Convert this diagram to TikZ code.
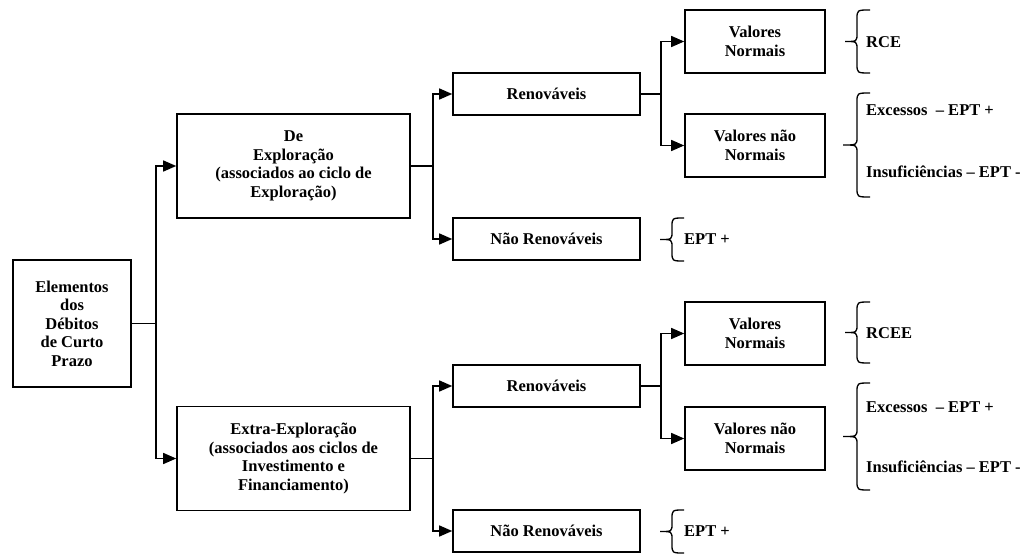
\documentclass[tikz,border=0pt]{standalone}
\usepackage{fontspec}
\setmainfont{Liberation Serif}
\usetikzlibrary{arrows.meta}
\begin{document}
\begin{tikzpicture}[x=1pt,y=-1pt,
  every node/.style={font=\fontsize{16.5}{18.5}\selectfont\bfseries, inner sep=0pt},
  box/.style={draw, line width=1.6pt, align=center},
  smallbox/.style={box, minimum width=187pt, minimum height=42pt},
  valbox/.style={box, minimum width=140pt, minimum height=63pt},
  bigbox/.style={box, minimum width=233pt, minimum height=104pt},
  arr/.style={line width=1.4pt, -{Triangle[length=13pt,width=11pt]}},
  lbl/.style={anchor=west},
  brc/.style={line width=1.3pt}
]
\useasboundingbox (0,0) rectangle (1028,556);
\fill[white] (0,0) rectangle (1028,556);

% boxes
\node[box, minimum width=118pt, minimum height=127pt] (root) at (72,323.5) {Elementos\\dos\\Débitos\\de Curto\\Prazo};
\node[bigbox] (de) at (293.5,166) {De\\Exploração\\(associados ao ciclo de\\Exploração)};
\node[bigbox] (extra) at (293.5,458.5) {Extra-Exploração\\(associados aos ciclos de\\Investimento e\\Financiamento)};

\node[smallbox] (renT) at (546.5,94) {Renováveis};
\node[smallbox] (naoT) at (546.5,239) {Não Renováveis};
\node[smallbox] (renB) at (546.5,386) {Renováveis};
\node[smallbox] (naoB) at (546.5,531) {Não Renováveis};

\node[valbox] (vnT) at (755,41.5) {Valores\\Normais};
\node[valbox] (vnnT) at (755,145.5) {Valores não\\Normais};
\node[valbox] (vnB) at (755,333.5) {Valores\\Normais};
\node[valbox] (vnnB) at (755,438.5) {Valores não\\Normais};

% connectors
\draw[arr] (root.east) -- ++(24,0) |- (de.west);
\draw[arr] (root.east) -- ++(24,0) |- (extra.west);
\draw[arr] (de.east) -- ++(22,0) |- (renT.west);
\draw[arr] (de.east) -- ++(22,0) |- (naoT.west);
\draw[arr] (extra.east) -- ++(22,0) |- (renB.west);
\draw[arr] (extra.east) -- ++(22,0) |- (naoB.west);
\draw[arr] (renT.east) -- ++(20,0) |- (vnT.west);
\draw[arr] (renT.east) -- ++(20,0) |- (vnnT.west);
\draw[arr] (renB.east) -- ++(20,0) |- (vnB.west);
\draw[arr] (renB.east) -- ++(20,0) |- (vnnB.west);

% braces: arms end xr, spine xs, tip xt
\newcommand{\curlybr}[5]{% xr, xs, xt, ytop, ybot
  \pgfmathsetmacro{\ym}{(#4+#5)/2}
  \draw[brc] (#1,#4) .. controls (#2,#4) .. (#2,#4+9) -- (#2,\ym-8)
    .. controls (#2,\ym) .. (#3,\ym) .. controls (#2,\ym) .. (#2,\ym+8)
    -- (#2,#5-9) .. controls (#2,#5) .. (#1,#5);
}
\curlybr{870}{857}{845}{10}{73}
\curlybr{870}{857}{843}{93}{197}
\curlybr{870}{857}{845}{302}{363}
\curlybr{870}{857}{843}{383}{490}
\curlybr{684}{672}{660}{218}{261}
\curlybr{684}{672}{660}{510}{553}

% labels
\node[lbl] (rce) at (866,42) {RCE};
\node[lbl] (excT) at (866,110) {Excessos \ – EPT +};
\node[lbl] (insT) at (866,172) {Insuficiências – EPT -};
\node[lbl] (eptT) at (684,239) {EPT +};
\node[lbl] (rcee) at (866,333) {RCEE};
\node[lbl] (excB) at (866,407) {Excessos \ – EPT +};
\node[lbl] (insB) at (866,467) {Insuficiências – EPT -};
\node[lbl] (eptB) at (684,531) {EPT +};
\end{tikzpicture}
\end{document}
